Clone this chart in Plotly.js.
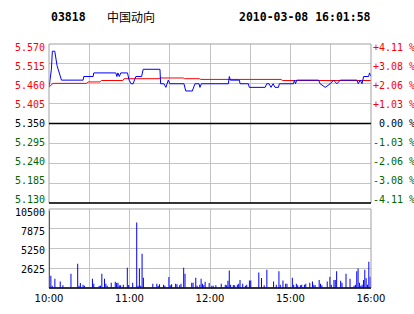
<!DOCTYPE html>
<html><head><meta charset="utf-8">
<script src="https://cdn.plot.ly/plotly-3.0.1.min.js"></script>
<style>html,body{margin:0;padding:0;background:#fff}#c{width:414px;height:314px}</style>
</head><body><div id="c"></div>
<script>
const stockCode = "03818";
const stockName = "中国动向";
const stamp = "2010-03-08 16:01:58";
const prevClose = 5.35;
const priceTicks = [5.130, 5.185, 5.240, 5.295, 5.350, 5.405, 5.460, 5.515, 5.570];
const pctLabels = ["-4.11 %", "-3.08 %", "-2.06 %", "-1.03 %", "\u00a00.00 %", "+1.03 %", "+2.06 %", "+3.08 %", "+4.11 %"];
const timeTickVals = [0, 30, 60, 90, 120, 150, 180, 210, 240];
const timeTickText = ["10:00", "", "11:00", "", "12:00", "", "15:00", "", "16:00"];
const volTicks = [0, 2625, 5250, 7875, 10500];
const volTickText = ["", "2625", "5250", "7875", "10500"];

// intraday price (minutes since 10:00, lunch break removed)
const priceMin = [0, 1.8, 2.5, 4.3, 6.0, 7.5, 9.3, 25.4, 25.9, 32.9, 33.4, 49.8, 50.6, 51.3, 52.4, 53.5, 58.5, 59.7, 61.2, 62.7, 63.5, 64.7, 69.0, 70.2, 82.7, 83.2, 85.6, 87.1, 88.9, 90.1, 100.6, 101.9, 106.8, 108.8, 111.8, 112.5, 113.6, 133.7, 134.4, 135.2, 141.9, 142.4, 148.6, 149.3, 161.1, 162.3, 164.0, 165.5, 167.0, 168.5, 171.0, 171.7, 182.2, 182.9, 183.7, 184.7, 200.9, 202.1, 205.9, 209.6, 212.1, 214.6, 217.1, 229.5, 230.5, 232.0, 233.3, 234.5, 238.2, 238.9, 240];
const priceVal = [5.45, 5.50, 5.55, 5.55, 5.51, 5.49, 5.47, 5.47, 5.48, 5.48, 5.49, 5.49, 5.48, 5.49, 5.48, 5.49, 5.49, 5.47, 5.46, 5.46, 5.47, 5.48, 5.48, 5.50, 5.50, 5.46, 5.46, 5.45, 5.47, 5.46, 5.46, 5.44, 5.44, 5.46, 5.46, 5.45, 5.46, 5.46, 5.48, 5.47, 5.47, 5.46, 5.46, 5.45, 5.45, 5.46, 5.46, 5.45, 5.46, 5.45, 5.45, 5.46, 5.46, 5.47, 5.46, 5.47, 5.47, 5.46, 5.45, 5.46, 5.47, 5.46, 5.47, 5.47, 5.46, 5.47, 5.46, 5.48, 5.48, 5.49, 5.48];

// average price
const avgMin = [0, 3, 28, 29, 38, 39, 55, 56, 82, 83, 100, 101, 112, 113, 173, 174, 240];
const avgVal = [5.451, 5.461, 5.461, 5.465, 5.465, 5.469, 5.469, 5.474, 5.474, 5.476, 5.476, 5.474, 5.474, 5.472, 5.472, 5.469, 5.469];

// volume per minute
const volMin = [0, 1, 2, 4, 8, 10, 16, 21, 22, 23, 25, 26, 32, 33, 37, 38, 39, 41, 42, 43, 46, 49, 50, 51, 52, 53, 55, 58, 59, 62, 65, 66, 67, 68, 69, 70, 77, 80, 81, 82, 85, 86, 89, 90, 91, 94, 95, 97, 98, 100, 101, 106, 107, 109, 110, 112, 113, 114, 115, 116, 119, 121, 122, 124, 128, 131, 132, 133, 134, 135, 137, 138, 140, 141, 142, 144, 146, 147, 149, 150, 156, 158, 160, 162, 167, 169, 171, 172, 174, 176, 177, 181, 182, 184, 185, 187, 188, 190, 191, 194, 196, 197, 198, 201, 202, 203, 207, 209, 210, 212, 213, 214, 217, 218, 221, 224, 227, 228, 229, 230, 231, 232, 233, 234, 235, 236, 237, 238, 239];
const volVal = [10300, 1640, 300, 1240, 880, 350, 1900, 3230, 300, 660, 440, 300, 1240, 570, 300, 300, 1900, 1240, 570, 300, 700, 840, 660, 700, 350, 350, 440, 2700, 400, 700, 8720, 300, 2600, 300, 4560, 1370, 570, 570, 300, 500, 440, 300, 1460, 350, 500, 570, 500, 350, 570, 2700, 1900, 700, 700, 1370, 300, 440, 1240, 570, 350, 840, 660, 300, 300, 350, 570, 440, 350, 970, 2340, 440, 400, 350, 440, 570, 1070, 570, 300, 440, 1000, 1000, 2070, 1330, 350, 2430, 880, 440, 2210, 440, 1000, 570, 570, 1370, 440, 570, 350, 350, 440, 440, 570, 700, 880, 440, 350, 1070, 570, 350, 880, 1500, 440, 1070, 1050, 2210, 970, 700, 1900, 1240, 300, 440, 2210, 2600, 700, 300, 440, 1070, 2430, 1300, 440, 3500, 1500];

const RED = "#ff0000", GREEN = "#006600", BLACK = "#000000";
const colorFor = v => v > prevClose + 1e-9 ? RED : (v < prevClose - 1e-9 ? GREEN : BLACK);
const priceTickText = priceTicks.map(v => `<span style="color:${colorFor(v)}">${v.toFixed(3)}</span>`);
const pctTickText = priceTicks.map((v, i) => `<span style="color:${colorFor(v)}">${pctLabels[i]}</span>`);

const GRID = "#c4c4c4", BORDER = "#a0a0a0";
const mono = {family: "DejaVu Sans Mono", size: 10, color: "#000"};
// label-only axes: labels sit a few px inside the frame, as in the reference
const lblRange = [5.1205, 5.5798];
const volLblRange = [97, 11011];

const traces = [
  {type: "scatter", mode: "lines", x: avgMin, y: avgVal, xaxis: "x", yaxis: "y",
   line: {color: RED, width: 1}, hoverinfo: "skip"},
  {type: "scatter", mode: "lines", x: priceMin, y: priceVal, xaxis: "x", yaxis: "y",
   line: {color: "#0000ff", width: 1}, hoverinfo: "skip"},
  {type: "bar", x: volMin, y: volVal, xaxis: "x2", yaxis: "y3", width: 0.75, offset: 0,
   marker: {color: "#0000ff", line: {width: 0}}, hoverinfo: "skip"},
  {type: "scatter", mode: "lines", x: [0], y: [prevClose], xaxis: "x", yaxis: "y2",
   line: {width: 0}, showlegend: false, hoverinfo: "skip"},
  {type: "scatter", mode: "lines", x: [0], y: [prevClose], xaxis: "x", yaxis: "y4",
   line: {width: 0}, showlegend: false, hoverinfo: "skip"},
  {type: "scatter", mode: "lines", x: [0], y: [0], xaxis: "x2", yaxis: "y5",
   line: {width: 0}, showlegend: false, hoverinfo: "skip"}
];

const pxY = py => 1 + (44 - py) / 244;
const pxX = px => (px - 49.3) / 321.4;

const layout = {
  width: 414, height: 314,
  margin: {l: 49.3, r: 43.3, t: 44, b: 26, pad: 0},
  paper_bgcolor: "#fff", plot_bgcolor: "#fff",
  showlegend: false, hovermode: false,
  font: mono,
  xaxis: {domain: [0, 1], anchor: "y", range: [0, 240], tickvals: timeTickVals, ticktext: timeTickText,
          showticklabels: false, showgrid: true, gridcolor: GRID, gridwidth: 1, zeroline: false, ticks: "", showline: false},
  xaxis2: {domain: [0, 1], anchor: "y3", range: [0, 240], tickvals: timeTickVals, ticktext: timeTickText,
           showgrid: true, gridcolor: GRID, gridwidth: 1, zeroline: false, ticks: "", showline: false,
           tickfont: {family: "DejaVu Sans", size: 10, color: "#000"}, ticklabelstandoff: 3},
  yaxis: {domain: [0.3484, 1], anchor: "x", range: [5.13, 5.57], tickvals: priceTicks,
          showticklabels: false, showgrid: true, gridcolor: GRID, zeroline: false, ticks: "", showline: false},
  yaxis4: {domain: [0.3484, 1], anchor: "x", overlaying: "y", side: "left", range: lblRange,
           tickvals: priceTicks, ticktext: priceTickText, showgrid: false, zeroline: false, ticks: "", showline: false,
           tickfont: mono, ticklabelstandoff: 3},
  yaxis2: {domain: [0.3484, 1], anchor: "x", overlaying: "y", side: "right", range: lblRange,
           tickvals: priceTicks, ticktext: pctTickText, showgrid: false, zeroline: false, ticks: "", showline: false,
           tickfont: mono, ticklabelstandoff: 1},
  yaxis3: {domain: [0, 0.3238], anchor: "x2", range: [0, 10500], tickvals: volTicks,
           showticklabels: false, showgrid: true, gridcolor: GRID, zeroline: false, ticks: "", showline: false},
  yaxis5: {domain: [0, 0.3238], anchor: "x2", overlaying: "y3", side: "left", range: volLblRange,
           tickvals: volTicks, ticktext: volTickText, showgrid: false, zeroline: false, ticks: "", showline: false,
           tickfont: mono, ticklabelstandoff: 3},
  shapes: [
    {type: "rect", xref: "x domain", yref: "y domain", x0: 0, x1: 1, y0: 0, y1: 1, line: {color: BORDER, width: 1}},
    {type: "line", xref: "x domain", yref: "y", x0: 0, x1: 1, y0: prevClose, y1: prevClose, line: {color: BLACK, width: 1.3}},
    {type: "line", xref: "x domain", yref: "y domain", x0: 0, x1: 1, y0: 0, y1: 0, line: {color: BLACK, width: 1.3}},
    {type: "rect", xref: "x2 domain", yref: "y3 domain", x0: 0, x1: 1, y0: 0, y1: 1, line: {color: BORDER, width: 1}},
    {type: "line", xref: "x2 domain", yref: "y3 domain", x0: 0, x1: 1, y0: 0, y1: 0, line: {color: BLACK, width: 1.3}}
  ],
  annotations: [
    {xref: "paper", yref: "paper", x: pxX(49.5), y: pxY(16.5), xanchor: "left", yanchor: "middle", showarrow: false,
     text: "<b>" + stockCode + "</b>", font: {family: "DejaVu Sans Mono", size: 11.5, color: "#000"}},
    {xref: "paper", yref: "paper", x: pxX(105), y: pxY(16), xanchor: "left", yanchor: "middle", showarrow: false,
     text: stockName, font: {family: "Noto Sans CJK SC", size: 12, color: "#000"}},
    {xref: "paper", yref: "paper", x: pxX(237), y: pxY(16.5), xanchor: "left", yanchor: "middle", showarrow: false,
     text: "<b>" + stamp + "</b>", font: {family: "DejaVu Sans Mono", size: 11.5, color: "#000"}}
  ]
};

Plotly.newPlot("c", traces, layout, {staticPlot: true, displayModeBar: false});
</script>
</body></html>
